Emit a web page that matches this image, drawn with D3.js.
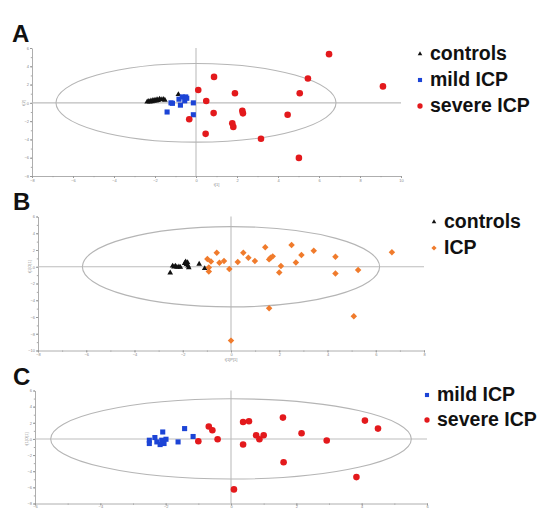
<!DOCTYPE html>
<html>
<head>
<meta charset="utf-8">
<script src="https://cdn.jsdelivr.net/npm/d3@7"></script>
<style>
  body { margin: 0; background: #fff; }
  svg { display: block; font-family: "Liberation Sans", Arial, sans-serif; }
  .legend text { font-weight: bold; font-size: 19.5px; fill: #111; }
  .letter { font-weight: bold; font-size: 24px; fill: #111; }
  .tick text { font-size: 4px; fill: #888; }
  .axis-title { font-size: 4px; fill: #888; }
</style>
</head>
<body>
<script>
// panel A - scores (x, y)
const aControls = [[-2.38,0.12],[-2.3,0.18],[-2.25,0.1],[-2.2,0.22],[-2.15,0.15],[-2.1,0.28],[-2.05,0.2],[-2.0,0.32],
  [-1.95,0.22],[-1.9,0.35],[-1.85,0.28],[-1.78,0.42],[-1.7,0.36],[-1.6,0.4],[-1.52,0.3],[-0.86,0.92]];
const aMild = [[-1.41,-1.0],[-1.22,0.0],[-1.15,-0.05],[-0.83,0.4],[-0.76,-0.25],[-0.67,0.65],[-0.55,0.22],
  [-0.5,0.65],[-0.45,0.5],[-0.13,0.0],[-0.13,-1.3]];
const aSevere = [[6.49,5.33],[0.88,2.84],[5.46,2.67],[9.12,1.8],[0.11,1.4],[1.9,1.05],[5.06,1.05],[0.5,0.2],
  [0.86,-1.12],[2.26,-0.86],[2.29,-1.15],[4.47,-1.3],[-0.33,-1.8],[1.77,-2.23],[1.82,-2.63],[0.47,-3.39],
  [3.17,-3.93],[5.02,-6.02]];

// panel B
const bControls = [[-2.52,-0.72],[-2.42,0.1],[-2.36,0.0],[-2.3,0.08],[-2.24,-0.05],[-2.16,0.0],[-2.1,-0.05],
  [-1.92,0.4],[-1.88,0.6],[-1.84,0.3],[-1.8,0.5],[-1.78,0.1],[-1.75,-0.1],[-1.32,0.32],[-1.09,-0.2]];
const bIcp = [[-0.59,1.68],[-0.98,0.92],[-0.83,0.64],[-0.48,0.48],[-0.29,0.68],[-0.92,-0.08],[-0.92,-0.56],
  [-0.07,-0.28],[0.28,0.56],[0.51,1.68],[0.72,1.08],[0.99,0.68],[1.42,2.32],[1.58,0.88],[1.64,1.08],
  [1.73,1.24],[2.07,0.08],[2.0,-0.68],[2.51,2.6],[2.69,0.52],[2.92,1.4],[3.43,1.92],[4.33,1.2],[4.33,-0.8],
  [5.27,-0.4],[6.67,1.72],[1.58,-4.95],[5.09,-5.9],[0.0,-8.82]];

// panel C
const cMild = [[-2.5,-0.16],[-2.5,-0.57],[-2.33,0.17],[-2.27,-0.37],[-2.17,-0.7],[-2.09,0.86],[-2.12,-0.16],
  [-2.05,-0.57],[-1.99,-0.04],[-1.62,-0.37],[-1.42,1.28],[-1.16,0.3]];
const cSevere = [[-1.0,-0.28],[-0.68,1.53],[-0.57,1.07],[-0.41,-0.04],[0.37,2.1],[0.55,2.19],[0.37,-0.7],
  [0.77,0.46],[0.87,-0.04],[1.0,0.46],[1.59,2.64],[1.61,-2.88],[2.16,0.7],[2.93,-0.2],[4.1,2.27],[4.5,1.28],
  [3.84,-4.73],[0.09,-6.25]];

// axis ticks
const aXTicks = [-8,-6,-4,-2,0,2,4,6,8,10];
const aYTicks = [-8,-6,-4,-2,0,2,4,6];
const bXTicks = [-8,-6,-4,-2,0,2,4,6,8];
const bYTicks = [-10,-8,-6,-4,-2,0,2,4,6];
const cXTicks = [-6,-4,-2,0,2,4,6];
const cYTicks = [-8,-6,-4,-2,0,2,4,6];

const RED = '#e3191c', BLUE = '#1c44d6', ORANGE = '#f07b2c';

const svg = d3.select('body').append('svg')
  .attr('width', 540)
  .attr('height', 509);

const tri = { type: d3.symbolTriangle, size: 14, color: '#111', rot: 0 };
const sq = { type: d3.symbolSquare, size: 26, color: BLUE, rot: 0 };
const dot = { type: d3.symbolCircle, size: 34, color: RED, rot: 0 };
const dia = { type: d3.symbolSquare, size: 21, color: ORANGE, rot: 45 };

function drawPanel(p) {
  const x = d3.scaleLinear().domain(p.xDomain).range(p.xRange);
  const y = d3.scaleLinear().domain(p.yDomain).range(p.yRange);
  const g = svg.append('g');

  svg.append('text').attr('class', 'letter')
    .attr('x', p.letterAt[0]).attr('y', p.letterAt[1]).text(p.letter);

  // axes with minor ticks
  const minorX = d3.range(p.xDomain[0], p.xDomain[1] + 0.5, 1);
  const minorY = d3.range(p.yDomain[0], p.yDomain[1] + 0.5, 1);
  g.append('g').attr('transform', `translate(0,${p.yRange[0]})`)
    .call(d3.axisBottom(x).tickValues(minorX).tickSize(1.2).tickFormat(''))
    .call(a => a.select('.domain').remove())
    .selectAll('line').attr('stroke', '#aaa');
  g.append('g').attr('transform', `translate(${p.xRange[0]},0)`)
    .call(d3.axisLeft(y).tickValues(minorY).tickSize(1.2).tickFormat(''))
    .call(a => a.select('.domain').remove())
    .selectAll('line').attr('stroke', '#aaa');

  const xa = g.append('g').attr('transform', `translate(0,${p.yRange[0]})`)
    .call(d3.axisBottom(x).tickValues(p.xTicks).tickSize(2).tickPadding(p.xPad).tickSizeOuter(0));
  const ya = g.append('g').attr('transform', `translate(${p.xRange[0]},0)`)
    .call(d3.axisLeft(y).tickValues(p.yTicks).tickSize(2).tickPadding(1).tickSizeOuter(0));
  [xa, ya].forEach(a => {
    a.select('.domain').attr('stroke', '#999').attr('stroke-width', 0.8);
    a.selectAll('line').attr('stroke', '#999');
  });

  if (p.xTitle) {
    g.append('text').attr('class', 'axis-title')
      .attr('x', (p.xRange[0] + p.xRange[1]) / 2).attr('y', p.yRange[0] + 10)
      .attr('text-anchor', 'middle').text(p.xTitle);
  }
  g.append('text').attr('class', 'axis-title')
    .attr('transform', `translate(${p.xRange[0] - 7},${y(0)}) rotate(-90)`)
    .attr('text-anchor', 'middle').text(p.yTitle);

  // zero lines
  g.append('line')
    .attr('x1', p.xRange[0]).attr('x2', p.xRange[1])
    .attr('y1', y(0)).attr('y2', y(0))
    .attr('stroke', '#bdbdbd').attr('stroke-width', 1.1);
  g.append('line')
    .attr('x1', x(0)).attr('x2', x(0))
    .attr('y1', p.yRange[0]).attr('y2', p.yRange[1])
    .attr('stroke', '#bdbdbd').attr('stroke-width', 1.1);

  // confidence ellipse
  g.append('ellipse')
    .attr('cx', x(0)).attr('cy', y(0))
    .attr('rx', x(p.ellipse[0]) - x(0))
    .attr('ry', y(0) - y(p.ellipse[1]))
    .attr('fill', 'none')
    .attr('stroke', '#b5b5b5')
    .attr('stroke-width', 1.1);

  p.series.forEach(s => {
    g.selectAll(null)
      .data(s.data)
      .enter()
      .append('path')
      .attr('d', d3.symbol().type(s.m.type).size(s.m.size))
      .attr('transform', d => `translate(${x(d[0])},${y(d[1])}) rotate(${s.m.rot})`)
      .attr('fill', s.m.color);
  });

  const lg = svg.append('g').attr('class', 'legend');
  p.legend.forEach((l, i) => {
    const by = p.legendAt[1] + i * p.legendStep;
    lg.append('path')
      .attr('d', d3.symbol().type(l.m.type).size(l.m.size * 0.65))
      .attr('transform', `translate(${p.legendAt[0]},${by - 6}) rotate(${l.m.rot})`)
      .attr('fill', l.m.color);
    lg.append('text')
      .attr('x', p.legendAt[0] + 10)
      .attr('y', by)
      .text(l.label);
  });
}

drawPanel({
  letter: 'A', letterAt: [12, 42],
  xDomain: [-8, 10], xRange: [32, 401],
  yDomain: [-8, 6], yRange: [176, 48],
  xTicks: aXTicks, yTicks: aYTicks, xPad: 1,
  xTitle: 't[1]', yTitle: 't[2]',
  ellipse: [6.83, 4.3],
  series: [
    { data: aControls, m: tri },
    { data: aMild, m: sq },
    { data: aSevere, m: dot }
  ],
  legendAt: [420, 60], legendStep: 26,
  legend: [
    { label: 'controls', m: tri },
    { label: 'mild ICP', m: sq },
    { label: 'severe ICP', m: dot }
  ]
});

drawPanel({
  letter: 'B', letterAt: [13, 210],
  xDomain: [-8, 8], xRange: [38, 424],
  yDomain: [-10, 6], yRange: [350.5, 216.5],
  xTicks: bXTicks, yTicks: bYTicks, xPad: 1,
  xTitle: 't[1]P[1]', yTitle: 't[1]O[1]',
  ellipse: [6.16, 4.79],
  series: [
    { data: bControls, m: tri },
    { data: bIcp, m: dia }
  ],
  legendAt: [434, 228], legendStep: 26,
  legend: [
    { label: 'controls', m: tri },
    { label: 'ICP', m: dia }
  ]
});

drawPanel({
  letter: 'C', letterAt: [13, 385],
  xDomain: [-6, 6], xRange: [35, 427],
  yDomain: [-8, 6], yRange: [503.5, 390.5],
  xTicks: cXTicks, yTicks: cYTicks, xPad: 0,
  xTitle: null, yTitle: 't[1]O[1]',
  ellipse: [5.52, 4.97],
  series: [
    { data: cMild, m: sq },
    { data: cSevere, m: dot }
  ],
  legendAt: [427, 401], legendStep: 25,
  legend: [
    { label: 'mild ICP', m: sq },
    { label: 'severe ICP', m: dot }
  ]
});
</script>
</body>
</html>
